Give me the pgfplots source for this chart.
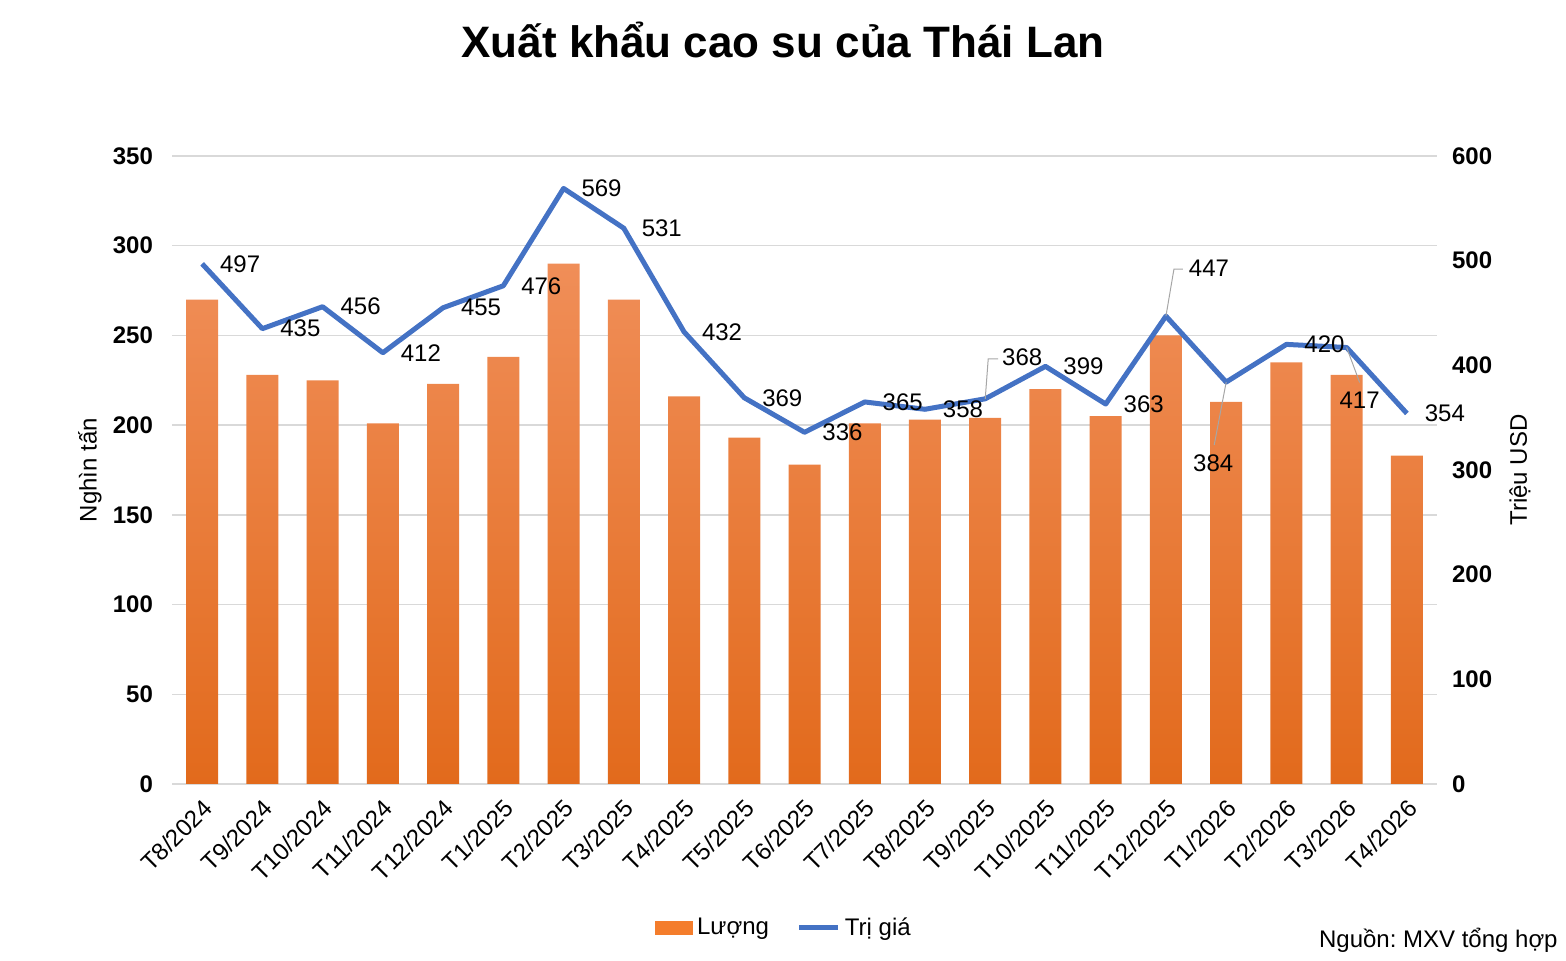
\documentclass[border=0pt]{standalone}
\usepackage{fontspec}
\setmainfont{Liberation Sans}
\usepackage{pgfplots}
\pgfplotsset{compat=1.18}
\definecolor{barTop}{RGB}{240,142,88}
\definecolor{barMid}{RGB}{244,125,44}
\definecolor{barBot}{RGB}{226,106,28}
\definecolor{lineBlue}{RGB}{68,114,196}
\definecolor{gridGray}{RGB}{217,217,217}
\definecolor{leadGray}{RGB}{166,166,166}
\begin{document}
\frenchspacing
\begin{tikzpicture}[x=1pt,y=1pt]
\path[use as bounding box] (0,0) rectangle (783,480.5);
\pgfplotsset{common/.style={
  at={(86pt,88.5pt)}, anchor=south west, scale only axis,
  width=632.5pt, height=314pt, xmin=-0.5, xmax=20.5,
  major tick length=0pt, axis line style={draw=none},
  /pgf/number format/assume math mode=true,
  yticklabel style={font=\bfseries\fontsize{12}{14}\selectfont}}}
\begin{axis}[common,
  ymin=0, ymax=350, ytick={0,50,...,350},
  ymajorgrids, grid style={gridGray, line width=0.75pt},
  yticklabel style={xshift=-6pt},
  xtick={0,...,20},
  xticklabels={T8/2024,T9/2024,T10/2024,T11/2024,T12/2024,T1/2025,T2/2025,T3/2025,T4/2025,T5/2025,T6/2025,T7/2025,T8/2025,T9/2025,T10/2025,T11/2025,T12/2025,T1/2026,T2/2026,T3/2026,T4/2026},
  xticklabel style={rotate=45, anchor=north east, xshift=-4pt, yshift=-3.5pt, inner sep=1pt, font=\fontsize{12}{14}\selectfont},
  legend style={at={(0.4846,-0.229)}, anchor=center, draw=none, fill=none,
    legend columns=2, font=\fontsize{12}{14}\selectfont,
    /tikz/every even column/.append style={column sep=12pt}},
  legend cell align=left]
\addplot[ybar, bar width=16pt, draw=none, top color=barTop, middle color=barMid, bottom color=barBot, forget plot]
 coordinates {(0,270) (1,228) (2,225) (3,201) (4,223) (5,238) (6,290) (7,270) (8,216) (9,193) (10,178) (11,201) (12,203) (13,204) (14,220) (15,205) (16,250) (17,213) (18,235) (19,228) (20,183)};
\addlegendimage{legend image code/.code={\fill[barMid] (0pt,-3.3pt) rectangle (18.5pt,3.3pt);}}
\addlegendentry{Lượng}
\addlegendimage{legend image code/.code={\draw[lineBlue, line width=2.5pt] (0pt,0pt) -- (19.5pt,0pt);}}
\addlegendentry{Trị giá}
\end{axis}
\begin{axis}[common, clip=false,
  ymin=0, ymax=600, ytick={0,100,...,600},
  axis y line*=right, axis x line=none,
  yticklabel style={xshift=4pt}]
\addplot[lineBlue, line width=2.5pt, line join=round, mark=none]
 coordinates {(0,497) (1,435) (2,456) (3,412) (4,455) (5,476) (6,569) (7,531) (8,432) (9,369) (10,336) (11,365) (12,358) (13,368) (14,399) (15,363) (16,447) (17,384) (18,420) (19,417) (20,354)};
\begin{scope}[every node/.style={font=\fontsize{12}{14}\selectfont, inner sep=0pt}]
\foreach \i/\v in {0/497,1/435,2/456,3/412,4/455,5/476,6/569,7/531,8/432,9/369,10/336,11/365,12/358,14/399,15/363,18/420,20/354}{
  \edef\tmp{\noexpand\node[xshift=19pt] at (axis cs:\i,\v) {\v};}\tmp
}
\draw[leadGray, line width=0.5pt] (axis cs:13,368) -- ++(1.5pt,20pt) -- ++(5pt,0pt);
\node[xshift=18.5pt, yshift=21pt] at (axis cs:13,368) {368};
\draw[leadGray, line width=0.5pt] (axis cs:16,447) -- ++(4pt,23.5pt) -- ++(4.5pt,0pt);
\node[xshift=21.5pt, yshift=24pt] at (axis cs:16,447) {447};
\draw[leadGray, line width=0.5pt] (axis cs:17,384) -- ++(-6pt,-31.5pt);
\node[xshift=-6.5pt, yshift=-40.5pt] at (axis cs:17,384) {384};
\draw[leadGray, line width=0.5pt] (axis cs:19,417) -- ++(6.5pt,-17.5pt);
\node[xshift=6.5pt, yshift=-26.5pt] at (axis cs:19,417) {417};
\end{scope}
\end{axis}
\node[font=\bfseries\fontsize{22}{26}\selectfont] at (391.5,460.5) {Xuất khẩu cao su của Thái Lan};
\node[rotate=90, font=\fontsize{12}{14}\selectfont] at (45,245.5) {Nghìn tấn};
\node[rotate=90, font=\fontsize{12}{14}\selectfont] at (760,245.5) {Triệu USD};
\node[anchor=east, font=\fontsize{12}{14}\selectfont, inner sep=0pt] at (779,10.5) {Nguồn: MXV tổng hợp};
\end{tikzpicture}
\end{document}
